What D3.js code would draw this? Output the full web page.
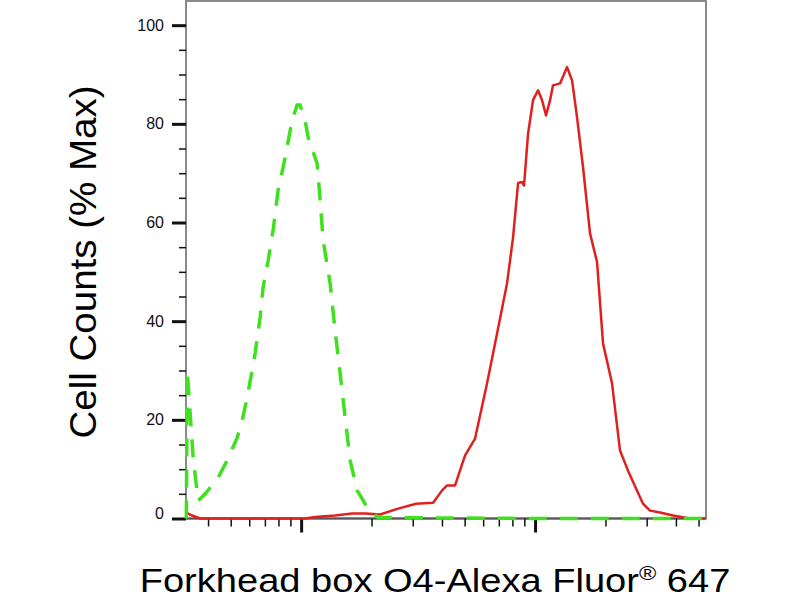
<!DOCTYPE html>
<html>
<head>
<meta charset="utf-8">
<script src="https://cdn.jsdelivr.net/npm/d3@7"></script>
<style>
  body { margin: 0; background: #fff; }
  svg { display: block; font-family: "Liberation Sans", Arial, sans-serif; }
</style>
</head>
<body>
<svg></svg>
<script>
const width = 800
const height = 600

// isotype control (green dashed): intensity on the log axis, % of max
const isoIntensity = [32.3, 32.6, 34.6, 36.3, 38.9, 44.2, 48.3, 53.3, 56.0, 58.8, 63.6, 66.8, 68.8, 72.3, 75.9, 79.7, 85.5, 91.5, 96.1, 99.0, 104.0, 107.1, 117.0, 120.6, 124.2, 133.0, 139.7, 146.8, 154.2, 162.0, 173.5, 193.3, 213.3, 1000, 5300]
const isoCount = [0, 30, 12, 3.6, 5, 8.3, 11.8, 16.4, 19.9, 24.5, 33.5, 40.8, 46.9, 52.3, 58.4, 66.5, 73.2, 80.7, 83.8, 83.8, 80.7, 77.3, 72, 64.5, 56.4, 47.7, 38.1, 29.4, 20.5, 11.8, 5.7, 2, 0.2, 0, 0]

// FOXO4 stained sample (red)
const foxIntensity = [32.3, 34.2, 37.0, 104.0, 114.8, 139.7, 165.2, 189.6, 217.6, 259.8, 310.0, 366.5, 400.6, 420.8, 455.0, 502.2, 554.0, 623.6, 688.0, 759.2, 805.4, 846.0, 879.8, 897.4, 933.4, 980.6, 1030.0, 1071.2, 1114.2, 1159.0, 1193.7, 1279.0, 1370.4, 1439.4, 1512.0, 1603.8, 1718.0, 1840.8, 1952.3, 2133.4, 2307.4, 2496.9, 2893.3, 3100.4, 3421.4, 3888.2, 4597.2, 5328]
const foxCount = [1.2, 0.6, 0, 0, 0.3, 0.6, 1.0, 1.0, 0.8, 2.0, 3.0, 3.2, 5.7, 6.7, 6.7, 12.8, 16.2, 27.4, 37.5, 47.7, 57, 68, 68.2, 67.5, 78, 84.8, 86.8, 84.8, 81.7, 84.8, 87.8, 88.2, 91.5, 88.8, 81.3, 71.2, 57.8, 52, 35.5, 27.4, 13.8, 9.7, 3.0, 1.6, 1.2, 0.6, 0, 0]

const xDomain = [32.2, 5380]
const yDomain = [0, 104.9]

const yMajorTicks = [0, 20, 40, 60, 80, 100]
const yMinorTicks = [5, 10, 15, 25, 30, 35, 45, 50, 55, 65, 70, 75, 85, 90, 95]
const xMajorTicks = [100, 1000]
const xMinorTicks = [40, 50, 60, 70, 80, 90, 200, 300, 400, 500, 600, 700, 800, 900, 2000, 3000, 4000, 5000]

const plot = {left: 186, right: 706, top: 1, bottom: 518.5}

const svg = d3.select('svg').attr('width', width).attr('height', height)

const x = d3.scaleLog().domain(xDomain).range([plot.left, plot.right])
const y = d3.scaleLinear().domain(yDomain).range([plot.bottom, plot.top])

// frame
svg.append('rect')
  .attr('x', plot.left).attr('y', plot.top)
  .attr('width', plot.right - plot.left).attr('height', plot.bottom - plot.top)
  .attr('fill', 'none').attr('stroke', '#8a8a8a').attr('stroke-width', 2)

svg.append('line')
  .attr('x1', plot.left).attr('x2', plot.right)
  .attr('y1', plot.bottom).attr('y2', plot.bottom)
  .attr('stroke', '#555').attr('stroke-width', 2)

// y axis ticks
svg.append('g').attr('transform', `translate(${plot.left},0)`)
  .call(d3.axisLeft(y).tickValues(yMinorTicks).tickSize(7).tickFormat(''))
  .call(g => g.select('.domain').remove())
  .selectAll('line').attr('stroke', '#111').attr('stroke-width', 1.5)

const yMajor = svg.append('g').attr('transform', `translate(${plot.left},0)`)
  .call(d3.axisLeft(y).tickValues(yMajorTicks).tickSize(14).tickPadding(8).tickFormat(d3.format('d')))
  .call(g => g.select('.domain').remove())
yMajor.selectAll('line').attr('stroke', '#111').attr('stroke-width', 3)
yMajor.selectAll('text')
  .attr('font-family', '"Liberation Sans", Arial, sans-serif')
  .attr('font-size', 16).attr('fill', '#111')
  .attr('dy', d => d === 0 ? '0.0em' : '0.32em')

// x axis ticks (log)
svg.append('g').attr('transform', `translate(0,${plot.bottom})`)
  .call(d3.axisBottom(x).tickValues(xMinorTicks).tickSize(8).tickFormat(''))
  .call(g => g.select('.domain').remove())
  .selectAll('line').attr('stroke', '#111').attr('stroke-width', 1.5)

svg.append('g').attr('transform', `translate(0,${plot.bottom})`)
  .call(d3.axisBottom(x).tickValues(xMajorTicks).tickSize(14).tickFormat(''))
  .call(g => g.select('.domain').remove())
  .selectAll('line').attr('stroke', '#111').attr('stroke-width', 3)

// histograms
const line = d3.line().x(d => x(d[0])).y(d => y(d[1]))

svg.append('path')
  .datum(d3.zip(foxIntensity, foxCount))
  .attr('d', line)
  .attr('fill', 'none').attr('stroke', '#e0201e').attr('stroke-width', 2.5)
  .attr('stroke-linejoin', 'round')

svg.append('path')
  .datum(d3.zip(isoIntensity, isoCount))
  .attr('d', line)
  .attr('fill', 'none').attr('stroke', '#40e020').attr('stroke-width', 3.5)
  .attr('stroke-dasharray', '18,13')

// axis titles (the original font is a little wider than Arial)
svg.append('text')
  .attr('transform', 'translate(96,262) rotate(-90) scale(1.07,1)')
  .attr('text-anchor', 'middle')
  .attr('font-size', 36).attr('fill', '#000')
  .text('Cell Counts (% Max)')

const xTitle = svg.append('text')
  .attr('transform', 'translate(435,592) scale(1.12,1)')
  .attr('text-anchor', 'middle')
  .attr('font-size', 34).attr('fill', '#000')
xTitle.append('tspan').text('Forkhead box O4-Alexa Fluor')
xTitle.append('tspan').attr('font-size', 21).attr('dy', -12).text('®')
xTitle.append('tspan').attr('dy', 12).text(' 647')
</script>
</body>
</html>
